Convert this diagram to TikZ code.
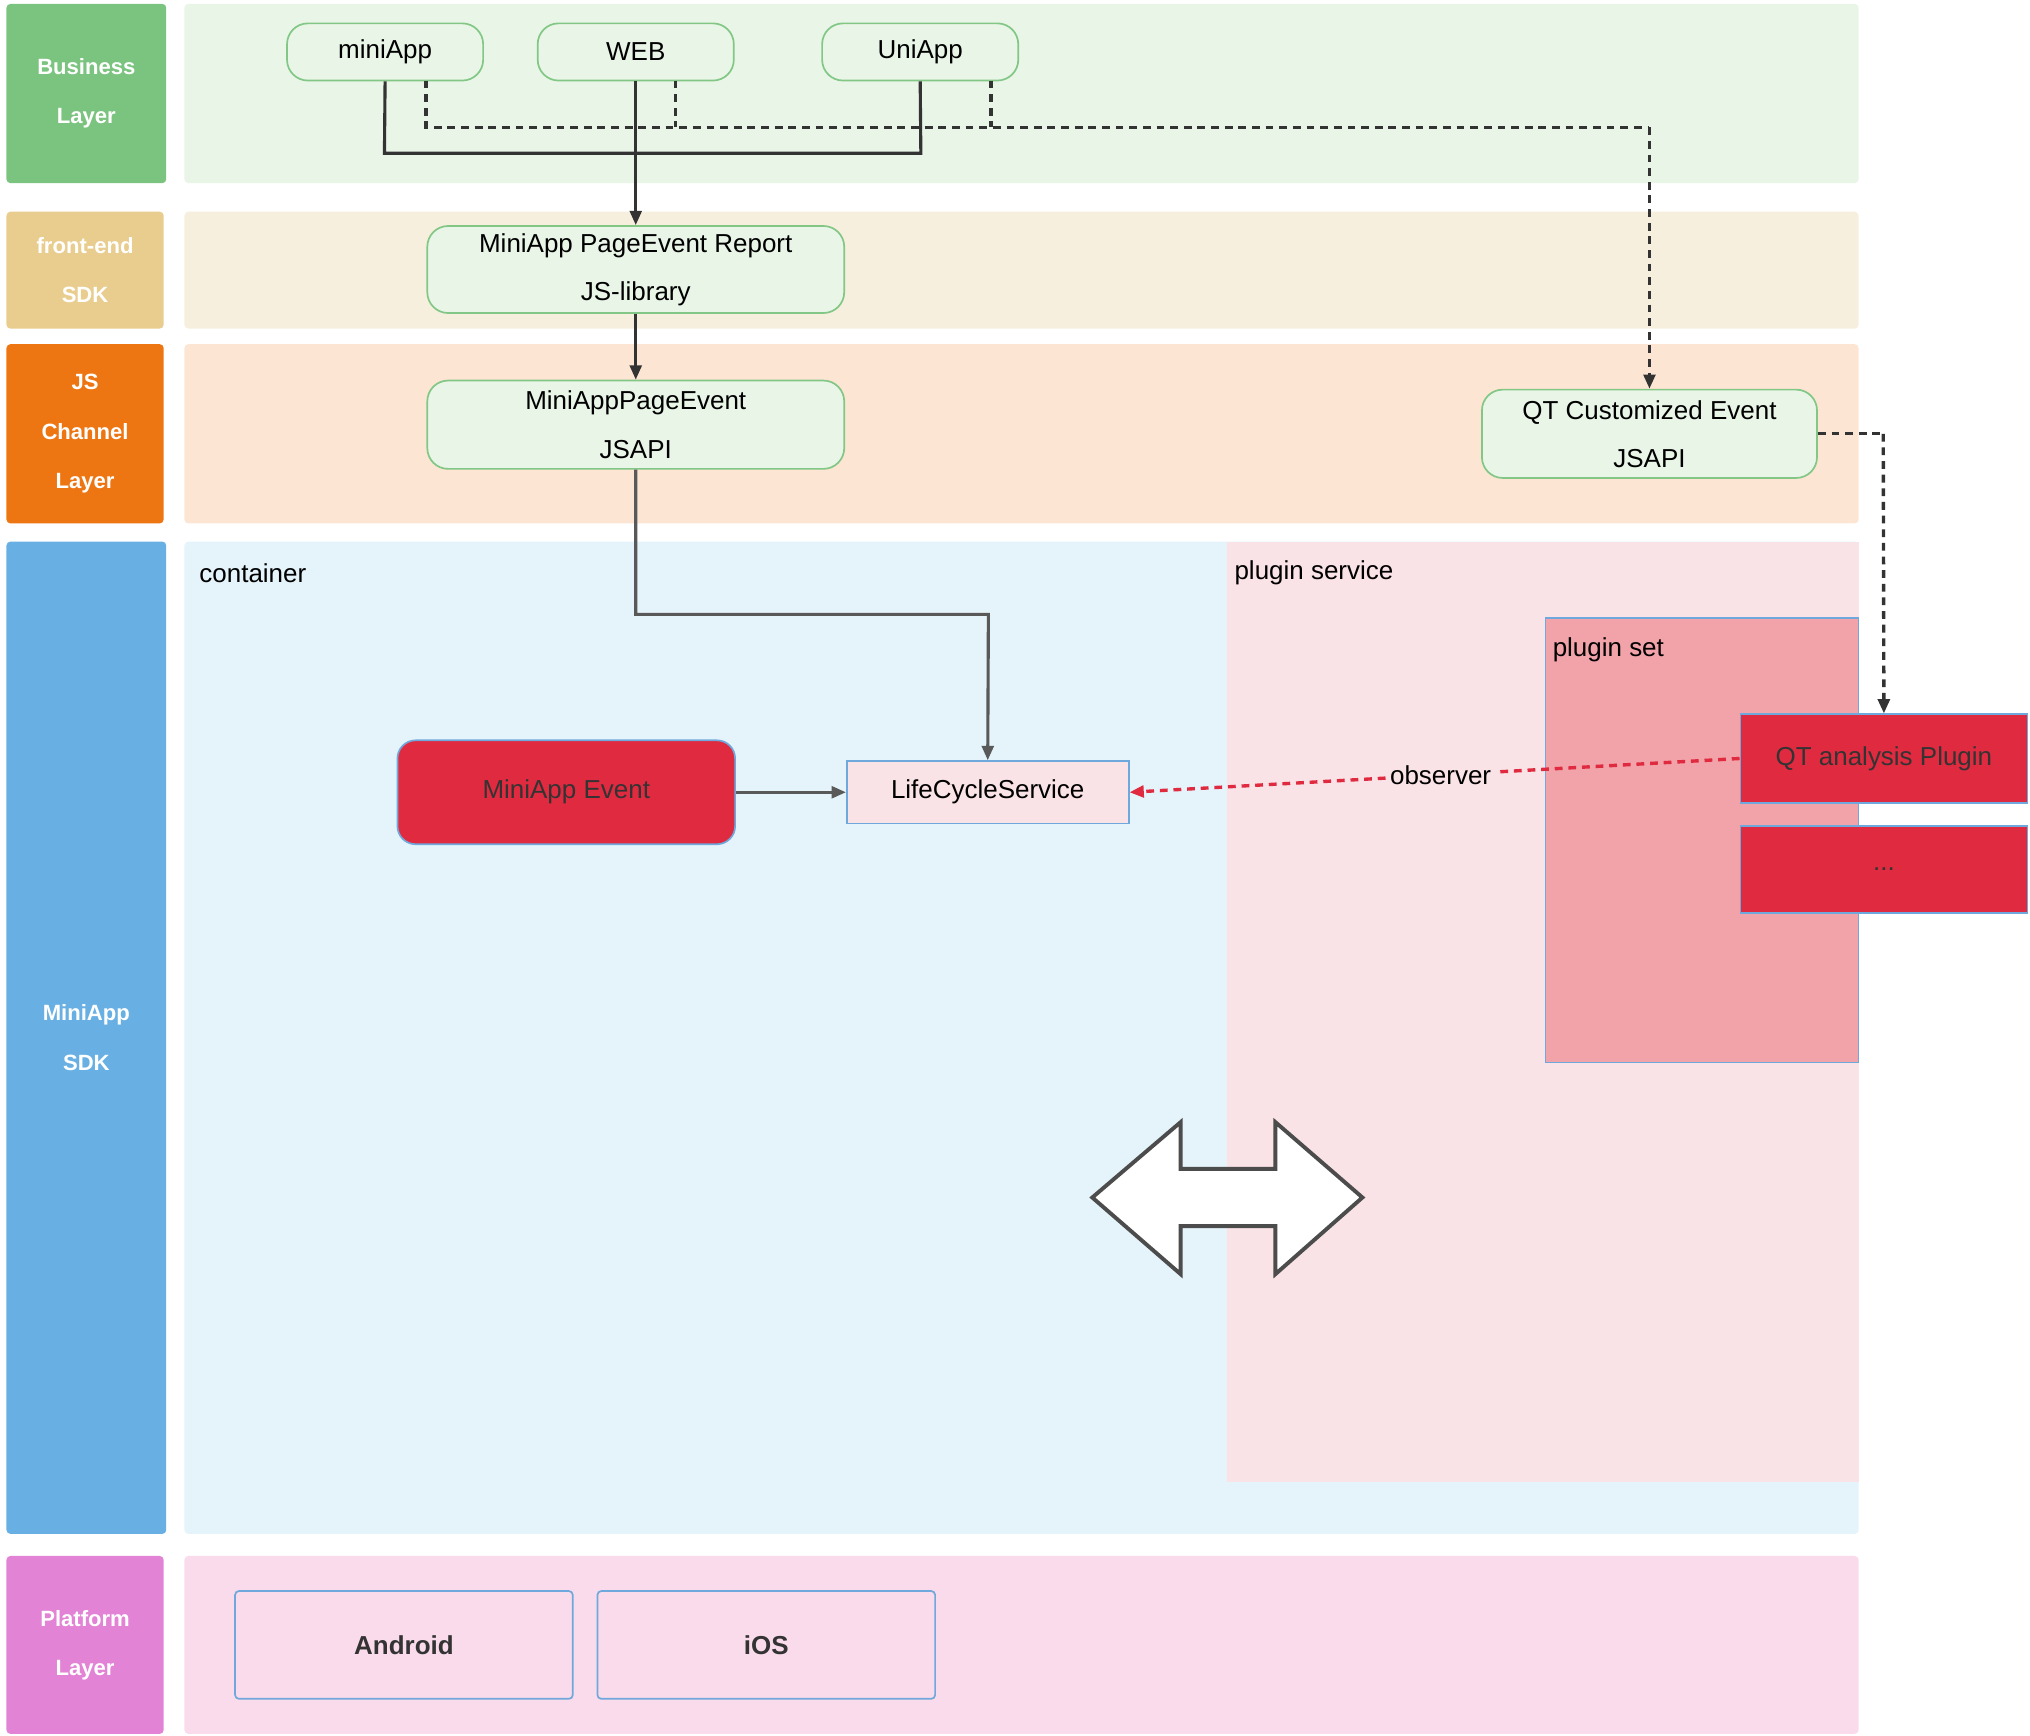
\documentclass[tikz,border=0pt]{standalone}
\usepackage{fontspec}
\setmainfont{Liberation Sans}
\usetikzlibrary{arrows.meta}
\definecolor{gL}{HTML}{7BC47F}\definecolor{gB}{HTML}{E8F5E7}
\definecolor{yL}{HTML}{E9CD8E}\definecolor{yB}{HTML}{F7EFDD}
\definecolor{oL}{HTML}{EE7612}\definecolor{oB}{HTML}{FDE5D4}
\definecolor{bL}{HTML}{68B0E3}\definecolor{bB}{HTML}{E5F3FA}
\definecolor{pL}{HTML}{E283D5}\definecolor{pB}{HTML}{FADBEB}
\definecolor{psB}{HTML}{FAE3E6}\definecolor{setB}{HTML}{F2A2A9}
\definecolor{rd}{HTML}{E02A40}\definecolor{gE}{HTML}{82C785}
\definecolor{bE}{HTML}{6FA8DC}\definecolor{dk}{HTML}{333333}
\begin{document}
\begin{tikzpicture}[x=1pt,y=-1pt,
  lab/.style={rounded corners=3pt,text=white,font=\fontsize{17}{38}\selectfont\bfseries,align=center},
  band/.style={rounded corners=3pt},
  gn/.style={draw=gE,line width=1.3pt,fill=gB,rounded corners=16pt,font=\fontsize{20}{37}\selectfont,align=center,inner sep=0pt},
  txt/.style={font=\fontsize{20}{24}\selectfont},
  ar/.style={-{Triangle[length=11pt,width=9pt]}},
  sl/.style={draw=dk,line width=2.4pt},
  ds/.style={draw=dk,line width=2.6pt,dash pattern=on 6pt off 4.5pt}]
\useasboundingbox (0,0) rectangle (1563,1336);
% left labels
\fill[gL,rounded corners=3pt] (5,3) rectangle (128,141);
\node[lab] (l1) at (66.5,72) {Business\\Layer};
\fill[yL,rounded corners=3pt] (5,163) rectangle (126,253);
\node[lab] (l2) at (65.5,208) {front-end\\SDK};
\fill[oL,rounded corners=3pt] (5,265) rectangle (126,403);
\node[lab] (l3) at (65.5,334) {JS\\Channel\\Layer};
\fill[bL,rounded corners=3pt] (5,417) rectangle (128,1181);
\node[lab] (l4) at (66.5,799) {MiniApp\\SDK};
\fill[pL,rounded corners=3pt] (5,1198) rectangle (126,1335);
\node[lab] (l5) at (65.5,1267) {Platform\\Layer};
% bands
\fill[gB,band] (142,3) rectangle (1431,141);
\fill[yB,band] (142,163) rectangle (1431,253);
\fill[oB,band] (142,265) rectangle (1431,403);
\fill[bB,band] (142,417) rectangle (1431,1181);
\fill[pB,band] (142,1198) rectangle (1431,1335);
\fill[psB] (945,417) rectangle (1431,1141);
\draw[bE,line width=1.3pt,fill=setB] (1190,476) rectangle (1431,818);
\node[txt,anchor=west] (ct) at (150,441) {container};
\node[txt,anchor=west] (ps) at (947,441) {plugin service};
\node[txt,anchor=west] (pst) at (1192,500) {plugin set};
% nodes
\node[gn,minimum width=151pt,minimum height=44pt] (mini) at (296.5,40) {miniApp};
\node[gn,minimum width=151pt,minimum height=44pt] (web) at (489.5,40) {WEB};
\node[gn,minimum width=151pt,minimum height=44pt] (uni) at (708.5,40) {UniApp};
\node[gn,minimum width=321pt,minimum height=67pt] (rep) at (489.5,207.5) {MiniApp PageEvent Report\\JS-library};
\node[gn,minimum width=321pt,minimum height=68pt] (jsapi) at (489.5,327) {MiniAppPageEvent\\JSAPI};
\node[gn,minimum width=258pt,minimum height=68pt] (qtc) at (1270,334) {QT Customized Event\\JSAPI};
\node[draw=bE,line width=1.3pt,fill=rd,rounded corners=14pt,minimum width=260pt,minimum height=80pt,txt,text=dk] (mev) at (436,610) {MiniApp Event};
\node[draw=bE,line width=1.3pt,fill=psB,minimum width=217pt,minimum height=48pt,txt] (lcs) at (760.5,610) {LifeCycleService};
\node[draw=bE,line width=1.3pt,fill=rd,minimum width=221pt,minimum height=68pt,txt,text=dk] (qta) at (1450.5,584) {QT analysis Plugin};
\node[draw=bE,line width=1.3pt,fill=rd,minimum width=221pt,minimum height=67pt,txt,text=dk] (dots) at (1450.5,669.5) {...};
\node[draw=bE,line width=1.3pt,rounded corners=3pt,minimum width=260pt,minimum height=83pt,font=\fontsize{20}{24}\selectfont\bfseries,text=dk] (and) at (311,1266.5) {Android};
\node[draw=bE,line width=1.3pt,rounded corners=3pt,minimum width=260pt,minimum height=83pt,font=\fontsize{20}{24}\selectfont\bfseries,text=dk] (ios) at (590,1266.5) {iOS};
% double arrow
\draw[draw=black!70,fill=white,line width=3pt,line join=miter] (841,922) -- (909,864) -- (909,900) -- (982,900) -- (982,864) -- (1049,922) -- (982,981) -- (982,944) -- (909,944) -- (909,981) -- cycle;
% connectors
\coordinate (a1) at (296,118); \coordinate (a2) at (709,118);
\draw[sl] (mini.south) -- (a1) -- (a2) -- (uni.south);
\draw[sl,ar] (web.south) -- (rep.north);
\draw[sl,ar] (rep.south) -- (jsapi.north);
\coordinate (d0) at (328,62); \coordinate (d1) at (328,98); \coordinate (d2) at (1270,98);
\draw[ds] (d0) -- (d1) -- (d2);
\draw[ds,ar] (d2) -- (qtc.north);
\coordinate (w0) at (520,62); \coordinate (w1) at (520,98);
\draw[ds] (w0) -- (w1);
\coordinate (u0) at (763,62); \coordinate (u1) at (763,98);
\draw[ds] (u0) -- (u1);
\coordinate (j1) at (489.5,473); \coordinate (j2) at (761,473);
\draw[draw=black!65,line width=2.4pt,ar] (jsapi.south) -- (j1) -- (j2) -- (lcs.north);
\draw[draw=black!65,line width=2.4pt,ar] (mev.east) -- (lcs.west);
\coordinate (q1) at (1450,334);
\draw[ds] (qtc.east) -- (q1);
\draw[ds,ar] (q1) -- (qta.north);
\draw[rd,line width=2.6pt,dash pattern=on 6pt off 4.5pt,ar] (qta.west) -- node[pos=0.49,fill=psB,txt,text=black,inner sep=3pt] (obs) {observer} (lcs.east);
\end{tikzpicture}
\end{document}
